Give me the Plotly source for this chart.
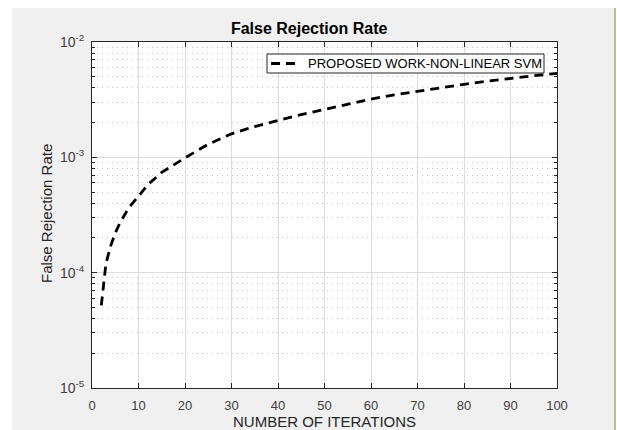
import plotly.graph_objects as go

# Data
iterations = [2, 3, 4, 5, 6, 7, 8, 10, 12, 15, 20, 25, 30, 35, 40, 45, 50, 55, 60, 65, 70, 75, 80, 85, 90, 95, 100]
frr = [5.2e-5, 1.2e-4, 1.7e-4, 2.2e-4, 2.7e-4, 3.2e-4, 3.7e-4, 4.6e-4, 5.8e-4, 7.4e-4, 9.9e-4,
       1.3e-3, 1.6e-3, 1.85e-3, 2.1e-3, 2.35e-3, 2.6e-3, 2.9e-3, 3.2e-3, 3.48e-3, 3.75e-3,
       4.02e-3, 4.3e-3, 4.57e-3, 4.85e-3, 5.1e-3, 5.35e-3]

series_name = "PROPOSED WORK-NON-LINEAR SVM"
title_text = "False Rejection Rate"
x_title = "NUMBER OF ITERATIONS"
y_title = "False Rejection Rate"
x_ticks = [0, 10, 20, 30, 40, 50, 60, 70, 80, 90, 100]
y_tick_vals = [1e-5, 1e-4, 1e-3, 1e-2]
y_tick_text = ["10<sup>-5</sup>", "10<sup>-4</sup>", "10<sup>-3</sup>", "10<sup>-2</sup>"]
y_minor_vals = [m * d for d in (1e-5, 1e-4, 1e-3) for m in range(2, 10)]

FONT = "Liberation Sans, Arial, sans-serif"
AX = "#262626"
LINE_W = 2.8
LINE_DASH = "9px,6px"

fig = go.Figure()
fig.add_trace(go.Scatter(
    x=iterations, y=frr, mode="lines", name=series_name,
    line=dict(color="black", width=LINE_W, dash=LINE_DASH),
    showlegend=False,
))

W, H = 617, 430
L, R, T, B = 92, 60, 42, 42
pw, ph = W - L - R, H - T - B

def px(xp):
    return (xp - L) / pw

def py(yp):
    return (H - B - yp) / ph

shapes = [
    # white strips around the gray figure window
    dict(type="rect", xref="paper", yref="paper", x0=px(-20), x1=px(640), y0=py(8), y1=py(-20),
         fillcolor="white", line_width=0, layer="below"),
    dict(type="rect", xref="paper", yref="paper", x0=px(-20), x1=px(12), y0=py(460), y1=py(-20),
         fillcolor="white", line_width=0, layer="below"),
    dict(type="rect", xref="paper", yref="paper", x0=px(616), x1=px(640), y0=py(460), y1=py(-20),
         fillcolor="white", line_width=0, layer="below"),
    dict(type="rect", xref="paper", yref="paper", x0=px(614), x1=px(616), y0=py(460), y1=py(8),
         fillcolor="#bdbd8c", line_width=0, layer="below"),
    # legend box
    dict(type="rect", xref="paper", yref="paper", x0=px(267), x1=px(544), y0=py(73), y1=py(54),
         fillcolor="white", line=dict(color=AX, width=1), layer="above"),
    dict(type="line", xref="paper", yref="paper", x0=px(271), x1=px(298), y0=py(63.5), y1=py(63.5),
         line=dict(color="black", width=LINE_W, dash=LINE_DASH), layer="above"),
]

annotations = [
    dict(text=series_name, xref="paper", yref="paper", x=px(306), y=py(63.5),
         xanchor="left", yanchor="middle", showarrow=False,
         font=dict(size=13, color="black", family=FONT)),
    dict(text=x_title, xref="paper", yref="paper", x=px(324.7), y=py(421),
         xanchor="center", yanchor="middle", showarrow=False,
         font=dict(size=15, color=AX, family=FONT)),
    dict(text=y_title, xref="paper", yref="paper", x=px(46), y=py(214),
         xanchor="center", yanchor="middle", showarrow=False, textangle=-90,
         font=dict(size=15, color=AX, family=FONT)),
]

fig.update_layout(
    width=W, height=H,
    margin=dict(l=L, r=R, t=T, b=B, autoexpand=False),
    paper_bgcolor="#f0f0f0",
    plot_bgcolor="white",
    font=dict(family=FONT, size=13, color=AX),
    title=dict(text="<b>" + title_text + "</b>", x=px(325), xanchor="center",
               y=1 - 28 / H, yanchor="middle", font=dict(size=16, color="black")),
    shapes=shapes,
    annotations=annotations,
    showlegend=False,
    xaxis=dict(
        range=[0, 100], tickmode="array", tickvals=x_ticks, automargin=False,
        showline=True, linecolor=AX, linewidth=1, mirror="ticks",
        ticks="inside", ticklen=5, tickcolor=AX,
        showgrid=True, gridcolor="#dcdcdc", gridwidth=1,
        zeroline=False, ticklabelstandoff=5,
        tickfont=dict(size=13, color="#404040"),
    ),
    yaxis=dict(
        type="log", range=[-5, -2], tickmode="array", automargin=False,
        tickvals=y_tick_vals, ticktext=y_tick_text,
        showline=True, linecolor=AX, linewidth=1, mirror="allticks",
        ticks="inside", ticklen=5, tickcolor=AX,
        showgrid=True, gridcolor="#dcdcdc", gridwidth=1,
        zeroline=False, ticklabelstandoff=4,
        tickfont=dict(size=14, color="#404040"),
        minor=dict(tickmode="array", tickvals=y_minor_vals, ticks="inside", ticklen=3,
                   tickcolor=AX, showgrid=True, gridcolor="#c4c4c4",
                   griddash="1px,4px", gridwidth=1),
    ),
)

fig.write_html("out.html")
